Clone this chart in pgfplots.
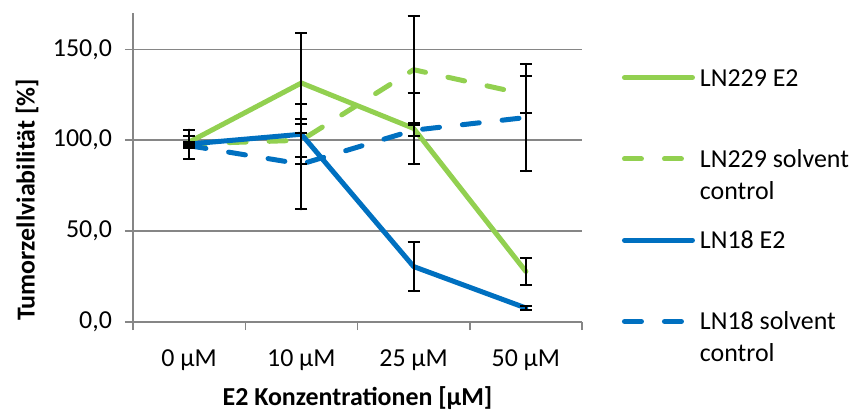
\documentclass[border=0pt]{standalone}
\usepackage{pgfplots}
\pgfplotsset{compat=1.18}
\usepackage{pgfplotstable}
\usepackage{fontspec}
\setmainfont{Carlito}
\definecolor{lgreen}{HTML}{92D050}
\definecolor{lblue}{HTML}{0070C0}
\definecolor{axgray}{HTML}{868686}

\pgfplotstableread{
x y e
0 99.0 3.2
1 131.5 27.4
2 106.5 19.6
3 27.8 7.3
}\lnAE
\pgfplotstableread{
x y e
0 98.0 1.0
1 100.0 9.0
2 138.8 29.3
3 125.2 10.0
}\lnAS
\pgfplotstableread{
x y e
0 97.9 8.0
1 103.3 16.5
2 30.5 13.5
3 7.7 1.0
}\lnBE
\pgfplotstableread{
x y e
0 97.0 1.0
1 86.9 25.0
2 105.5 3.0
3 112.5 29.5
}\lnBS

\begin{document}
\begin{tikzpicture}
\useasboundingbox (0,0) rectangle (428bp,205bp);
\begin{axis}[
  at={(66.5bp,44bp)}, anchor=south west,
  scale only axis, width=224.5bp, height=154.5bp,
  font=\fontsize{13}{16}\selectfont,
  xmin=-0.5, xmax=3.5, ymin=0, ymax=170,
  axis x line*=bottom, axis y line*=left,
  axis line style={axgray, line width=0.75bp, -},
  xtick={0,1,2,3},
  xticklabels={0 µM,10 µM,25 µM,50 µM},
  x tick style={draw=none},
  extra x ticks={-0.5,0.5,1.5,2.5,3.5},
  extra x tick labels={},
  extra x tick style={x tick style={draw=axgray, line width=0.75bp}, major tick length=4bp, tick align=outside},
  ytick={0,50,100,150},
  y tick style={draw=axgray, line width=0.75bp},
  major tick length=4bp, tick align=outside,
  ymajorgrids, grid style={axgray, line width=0.75bp},
  /pgf/number format/assume math mode=true,
  y tick label style={/pgf/number format/fixed, /pgf/number format/fixed zerofill, /pgf/number format/precision=1, /pgf/number format/use comma, xshift=-3bp},
  xticklabel style={yshift=-6.5bp},
  xlabel={\bfseries E2 Konzentrationen [µM]},
  xlabel style={at={(axis description cs:0.5,0)}, anchor=center, yshift=-38bp},
  ylabel={\bfseries Tumorzellviabilität [\%]},
  ylabel style={at={(axis description cs:-0.236,0.395)}, anchor=center},
  legend cell align=left,
  legend style={draw=none, fill=none, inner sep=0pt, outer sep=0pt,
    at={(axis description cs:1.089,0.799)}, anchor=north west, row sep=34.7bp, column sep=2.5bp,
    nodes={inner sep=0pt, text height=0pt, text depth=0pt, anchor=base west}},
  legend image code/.code={\draw[#1, line cap=round] (1.25bp,4.2bp) -- (35.25bp,4.2bp);},
  every axis plot/.append style={line width=2.5bp, line cap=round, line join=round},
]
\addplot[lgreen, solid] table[x=x,y=y] {\lnAE};
\addlegendentry{LN229 E2}
\addplot[lgreen, dash pattern=on 8.5bp off 11.5bp] table[x=x,y=y] {\lnAS};
\addlegendentry{\begin{tabular}[t]{@{}l@{}}LN229 solvent\\control\end{tabular}}
\addplot[lblue, solid] table[x=x,y=y] {\lnBE};
\addlegendentry{LN18 E2}
\addplot[lblue, dash pattern=on 8.5bp off 11.5bp] table[x=x,y=y] {\lnBS};
\addlegendentry{\begin{tabular}[t]{@{}l@{}}LN18 solvent\\control\end{tabular}}

\addplot[forget plot, draw=none, mark=none, error bars/.cd, y dir=both, y explicit,
  error bar style={draw=black, solid, line width=1bp},
  error mark options={rotate=90, mark size=3bp, draw=black, solid, line width=1bp}]
  table[x=x,y=y,y error=e] {\lnAE};
\addplot[forget plot, draw=none, mark=none, error bars/.cd, y dir=both, y explicit,
  error bar style={draw=black, solid, line width=1bp},
  error mark options={rotate=90, mark size=3bp, draw=black, solid, line width=1bp}]
  table[x=x,y=y,y error=e] {\lnAS};
\addplot[forget plot, draw=none, mark=none, error bars/.cd, y dir=both, y explicit,
  error bar style={draw=black, solid, line width=1bp},
  error mark options={rotate=90, mark size=3bp, draw=black, solid, line width=1bp}]
  table[x=x,y=y,y error=e] {\lnBE};
\addplot[forget plot, draw=none, mark=none, error bars/.cd, y dir=both, y explicit,
  error bar style={draw=black, solid, line width=1bp},
  error mark options={rotate=90, mark size=3bp, draw=black, solid, line width=1bp}]
  table[x=x,y=y,y error=e] {\lnBS};
\end{axis}
\end{tikzpicture}
\end{document}
